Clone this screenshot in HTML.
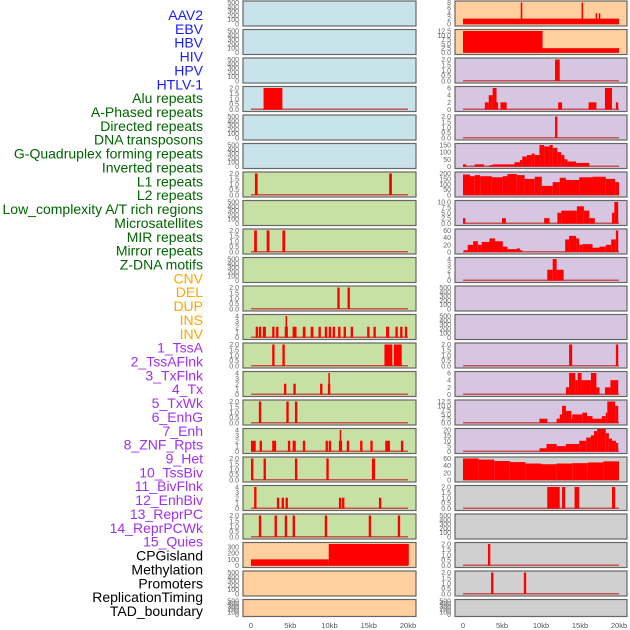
<!DOCTYPE html>
<html><head><meta charset="utf-8">
<style>
html,body{margin:0;padding:0;background:#fff;width:630px;height:630px;overflow:hidden}
svg{display:block;font-family:"Liberation Sans",sans-serif}
</style></head>
<body>
<svg id="chart" width="630" height="630" viewBox="0 0 630 630"></svg>
<script>
const labels=["AAV2","EBV","HBV","HIV","HPV","HTLV-1","Alu repeats","A-Phased repeats","Directed repeats","DNA transposons","G-Quadruplex forming repeats","Inverted repeats","L1 repeats","L2 repeats","Low_complexity A/T rich regions","Microsatellites","MIR repeats","Mirror repeats","Z-DNA motifs","CNV","DEL","DUP","INS","INV","1_TssA","2_TssAFlnk","3_TxFlnk","4_Tx","5_TxWk","6_EnhG","7_Enh","8_ZNF_Rpts","9_Het","10_TssBiv","11_BivFlnk","12_EnhBiv","13_ReprPC","14_ReprPCWk","15_Quies","CPGisland","Methylation","Promoters","ReplicationTiming","TAD_boundary"];
const labelGroups=[6,13,5,15,5];
const groupColors=["#1a1aff","#006400","#ffa500","#a030f0","#000000"];
const xTicks=[0,5,10,15,20];
const xTickLabels=["0","5kb","10kb","15kb","20kb"];
const leftBg=["#c8e3ea","#c8e3ea","#c8e3ea","#c8e3ea","#c8e3ea","#c8e3ea","#c7e0a4","#c7e0a4","#c7e0a4","#c7e0a4","#c7e0a4","#c7e0a4","#c7e0a4","#c7e0a4","#c7e0a4","#c7e0a4","#c7e0a4","#c7e0a4","#c7e0a4","#ffcf9e","#ffcf9e","#ffcf9e"];
const rightBg=["#ffcf9e","#ffcf9e","#d6c6e2","#d6c6e2","#d6c6e2","#d6c6e2","#d6c6e2","#d6c6e2","#d6c6e2","#d6c6e2","#d6c6e2","#d6c6e2","#d6c6e2","#d6c6e2","#d6c6e2","#d6c6e2","#d0d0d0","#d0d0d0","#d0d0d0","#d0d0d0","#d0d0d0","#d0d0d0"];
const leftMax=[500,500,500,2,500,500,2,500,2,500,2,4,2,4,2,4,2,4,2,350,500,500];
const rightMax=[8,12.5,2,6,2,150,200,10,60,4,500,500,2,6,12.5,20,60,2,500,2,2,500];
const leftTicks=[[0,100,200,300,400,500],[0,100,200,300,400,500],[0,100,200,300,400,500],[0,0.5,1,1.5,2],[0,100,200,300,400,500],[0,100,200,300,400,500],[0,0.5,1,1.5,2],[0,100,200,300,400,500],[0,0.5,1,1.5,2],[0,100,200,300,400,500],[0,0.5,1,1.5,2],[0,1,2,3,4],[0,0.5,1,1.5,2],[0,1,2,3,4],[0,0.5,1,1.5,2],[0,1,2,3,4],[0,0.5,1,1.5,2],[0,1,2,3,4],[0,0.5,1,1.5,2],[0,100,200,300],[0,100,200,300,400,500],[0,100,200,300,400,500]];
const rightTicks=[[0,2,4,6,8],[0,2.5,5,7.5,10,12.5],[0,0.5,1,1.5,2],[0,2,4,6],[0,0.5,1,1.5,2],[0,50,100,150],[0,50,100,150,200],[0,2.5,5,7.5,10],[0,20,40,60],[0,1,2,3,4],[0,100,200,300,400,500],[0,100,200,300,400,500],[0,0.5,1,1.5,2],[0,2,4,6],[0,2.5,5,7.5,10,12.5],[0,5,10,15,20],[0,20,40,60],[0,0.5,1,1.5,2],[0,100,200,300,400,500],[0,0.5,1,1.5,2],[0,0.5,1,1.5,2],[0,100,200,300,400,500]];
// bars: [startKb, endKb, value]
const leftBars=[[],[],[],[[1.6,4.0,2]],[],[],
[[0.5,0.85,2],[17.6,17.95,2]],[],
[[0.4,0.75,2],[2.0,2.35,2],[4.0,4.35,2]],[],
[[11.0,11.3,2],[12.3,12.6,2]],
[[0.6,0.9,2],[1.0,1.3,2],[1.5,1.9,2],[2.7,3.0,2],[3.2,3.5,2],[4.3,4.7,2],[4.4,4.6,4],[5.3,5.8,2],[6.6,6.95,2],[7.6,7.95,2],[8.6,8.9,2],[9.4,9.7,2],[9.9,10.2,2],[10.4,10.7,2],[11.1,11.4,2],[11.8,12.1,2],[12.7,13.0,2],[14.8,15.1,2],[15.6,15.9,2],[17.2,17.6,2],[18.4,18.7,2],[19.0,19.3,2],[19.6,19.9,2]],
[[2.7,3.0,2],[4.0,4.3,2],[17.0,18.0,2],[18.2,19.2,2]],
[[4.2,4.5,2],[5.4,5.7,2],[8.8,9.1,2],[9.8,10.1,2],[9.85,10.05,4]],
[[1.0,1.3,2],[4.5,4.8,2],[5.6,5.9,2]],
[[0,0.6,2],[1.1,1.4,2],[2.7,3.2,2],[4.7,5.0,2],[5.3,5.7,2],[6.6,6.9,2],[9.5,9.8,2],[9.9,10.2,2],[11.2,11.6,2],[11.3,11.5,4],[12.2,12.5,2],[13.9,14.2,2],[15.2,15.5,2],[17.1,17.7,2],[19.1,19.4,2]],
[[0,0.3,2],[1.6,1.9,2],[5.6,5.9,2],[9.6,9.9,2],[15.4,15.8,2]],
[[0.4,0.7,4],[3.3,3.6,2],[3.9,4.2,2],[4.4,4.7,2],[11.2,11.5,2],[11.6,11.9,2],[16.3,16.6,2]],
[[1.0,1.3,2],[3.0,3.3,2],[4.3,4.6,2],[5.3,5.6,2],[9.4,9.7,2],[15.0,15.3,2],[18.7,19.0,2]],
[[0,9.9,100],[9.9,20.1,350]],[],[]];
const rightBars=[
[[0,20,2],[7.4,7.6,8],[15.2,15.4,8],[17.0,17.2,4],[17.4,17.6,4]],
[[0,10.2,12.5],[10.2,20,2.5]],
[[11.8,12.4,2]],
[[2.8,3.3,2],[3.3,3.8,4],[3.8,4.3,6],[4.3,4.5,2],[4.8,5.6,2],[12.2,12.7,2],[16.1,17.1,2],[18.2,19.1,6],[19.6,19.9,2]],
[[11.8,12.1,2]],
[[0,0.4,15],[1.5,2.7,15],[3.4,3.8,10],[3.8,6.6,15],[6.6,7.3,30],[7.3,7.6,45],[7.6,8.2,70],[8.2,8.8,80],[8.8,9.2,90],[9.2,9.8,80],[9.8,10.4,150],[10.4,11.1,140],[11.1,11.5,150],[11.5,12.1,130],[12.1,12.6,100],[12.6,13.0,80],[13.0,13.4,50],[13.4,14.5,35],[14.5,16.2,25]],
[[0,0.9,190],[0.9,1.5,175],[1.5,2.2,185],[2.2,3.7,175],[3.7,5.1,165],[5.1,5.7,175],[5.7,6.9,195],[6.9,7.9,185],[7.9,9.2,150],[9.2,10.1,170],[10.1,11.5,85],[11.5,12.4,120],[12.4,13.2,160],[13.2,14.9,140],[14.9,16.6,165],[16.6,18.3,170],[18.3,19.5,150],[19.5,20,120]],
[[0,0.3,2.5],[5.0,5.5,2.5],[10.4,11.1,2.5],[12.1,12.6,5],[12.6,13.2,6],[13.2,14.6,6],[14.6,15.5,8],[15.5,16.2,6],[16.2,16.9,2.5],[19.1,19.4,5],[19.4,19.9,10]],
[[0.1,0.6,5],[0.6,1.3,20],[1.3,1.9,30],[1.9,2.4,20],[2.4,3.4,28],[3.4,4.1,38],[4.1,5.1,30],[5.1,5.7,15],[5.7,6.9,8],[6.9,7.3,10],[7.3,7.6,5],[13.1,13.6,35],[13.6,14.5,45],[14.5,14.9,38],[14.9,15.3,20],[15.3,16.6,22],[16.6,17.5,12],[17.5,18.3,15],[18.3,19.0,20],[19.0,19.6,35],[19.6,19.9,60]],
[[10.8,11.5,2],[11.5,12.0,4],[12.0,12.9,2]],
[],[],
[[13.6,14.0,2],[19.6,19.9,2]],
[[13.2,13.6,2],[13.6,14.4,6],[14.4,14.7,4],[14.7,15.2,6],[15.2,16.4,4],[16.4,17.1,6],[17.1,17.5,2],[18.2,18.9,2],[18.9,19.9,4]],
[[9.8,10.8,2.5],[12.0,12.4,2.5],[12.4,12.7,5],[12.7,13.2,10],[13.2,13.9,7],[13.9,14.0,2.5],[14.0,15.3,5],[15.3,15.9,6],[15.9,16.6,4],[16.6,17.8,2.5],[17.8,18.3,4],[18.3,18.5,6],[18.5,19.5,12.5],[19.5,19.9,10]],
[[9.8,10.7,3],[10.7,12.0,7],[12.0,13.2,5],[13.2,14.9,7],[14.9,15.8,10],[15.8,16.4,13],[16.4,16.8,15],[16.8,17.2,19],[17.2,18.3,21],[18.3,18.7,17],[18.7,19.1,12],[19.1,19.6,10],[19.6,19.9,8]],
[[0,2,60],[2,4,57],[4,6,53],[6,8,50],[8,10,46],[10,12,44],[12,14,46],[14,16,47],[16,18,49],[18,20,52]],
[[10.8,12.4,2],[12.7,13.1,2],[14.3,14.9,2],[19.1,19.5,2]],
[],
[[3.2,3.5,2]],
[[3.6,3.9,2],[7.8,8.1,2]],
[]];

const NS="http://www.w3.org/2000/svg";
const svg=document.getElementById('chart');
function mk(tag,attrs,parent){const e=document.createElementNS(NS,tag);for(const k in attrs)e.setAttribute(k,attrs[k]);(parent||svg).appendChild(e);return e;}
function fmt(v,ticks){const dec=ticks.some(t=>t%1!==0)?1:0;return v.toFixed(dec);}

// labels
let gi=0,cnt=0;
labels.forEach((lab,i)=>{
  while(cnt>=labelGroups[gi]){gi++;cnt=0;}
  cnt++;
  const t=mk('text',{x:203,y:20+i*13.86,'text-anchor':'end','font-size':'14',fill:groupColors[gi]});
  
  
  t.textContent=lab;
});

const cols=[{x0:243,x1:416,bg:leftBg,max:leftMax,ticks:leftTicks,bars:leftBars,name:'left'},
            {x0:455,x1:627,bg:rightBg,max:rightMax,ticks:rightTicks,bars:rightBars,name:'right'}];
cols.forEach(c=>{
  const xs=kb=>c.x0+8+kb*(c.x1-c.x0-16)/20;
  for(let r=0;r<22;r++){
    const top=1+r*28.5, h=(r===21)?17:25, bot=top+h;
    const g=mk('g',{});
    
    
    const rect=mk('rect',{x:c.x0,y:top,width:c.x1-c.x0,height:h,fill:c.bg[r],stroke:'#666','stroke-width':1.2},g);
    const y0=bot-2, y1=top+1.5;
    const ys=v=>y0-(v/c.max[r])*(y0-y1);
    // baseline
    if(c.bars[r].length){
      const bl=mk('rect',{x:xs(0),y:y0-1,width:xs(20)-xs(0),height:1.5,fill:'#c85050'},g);
      
      
    }
    c.bars[r].forEach(b=>{
      const yy=ys(b[2]);
      const br=mk('rect',{x:xs(b[0]),y:yy,width:Math.max(1.5,xs(b[1])-xs(b[0])),height:y0-yy,fill:'#ff0000'},g);
      
      
    });
    c.ticks[r].forEach(t=>{
      const tl=mk('text',{x:c.x0-4,y:ys(t)+2.5,'text-anchor':'end','font-size':'7',fill:'#666'},g);
      
      
      tl.textContent=fmt(t,c.ticks[r]);
    });
  }
  xTicks.forEach((t,i)=>{
    const tl=mk('text',{x:xs(t),y:628,'text-anchor':'middle','font-size':'7.5',fill:'#555'});
    
    
    tl.textContent=xTickLabels[i];
  });
});
</script>
</body></html>
